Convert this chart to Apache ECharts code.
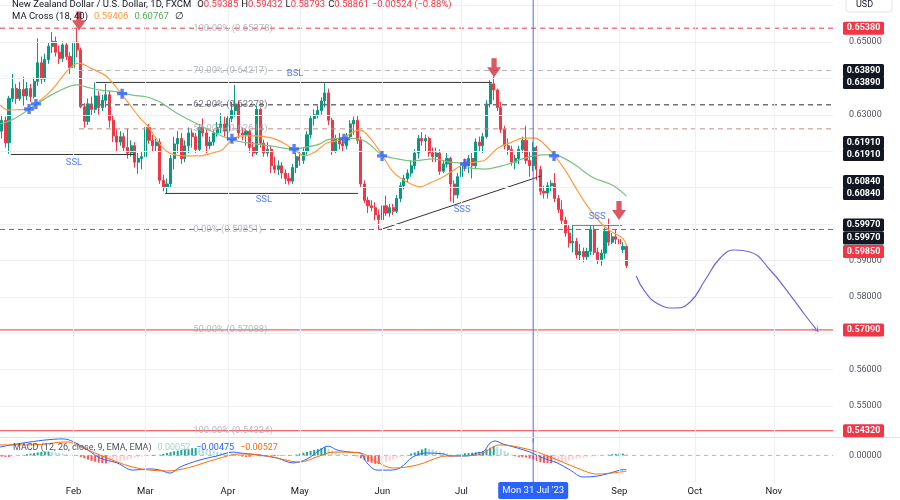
<!DOCTYPE html>
<html><head><meta charset="utf-8">
<script src="https://cdn.jsdelivr.net/npm/echarts@6/dist/echarts.min.js"></script>
<style>html,body{margin:0;padding:0;background:#fff}#c{width:900px;height:500px}</style>
</head><body><div id="c"></div>
<script>
// ---------- DATA ----------
const startDate = [2023, 0, 4];
const totalBars = 232;
// [open, close, low, high]
const candles = [
[0.6255,0.6285,0.6235,0.6300],[0.6285,0.6223,0.6210,0.6295],[0.6223,0.6345,0.6193,0.6352],[0.6345,0.6372,0.6335,0.6412],
[0.6372,0.6345,0.6330,0.6385],[0.6345,0.6370,0.6338,0.6390],[0.6370,0.6352,0.6325,0.6405],[0.6352,0.6372,0.6340,0.6390],
[0.6372,0.6350,0.6335,0.6385],[0.6350,0.6392,0.6345,0.6402],[0.6392,0.6443,0.6380,0.6510],[0.6443,0.6398,0.6385,0.6460],
[0.6398,0.6452,0.6390,0.6468],[0.6452,0.6488,0.6440,0.6500],[0.6488,0.6502,0.6470,0.6527],[0.6502,0.6472,0.6460,0.6515],
[0.6472,0.6455,0.6440,0.6490],[0.6455,0.6492,0.6445,0.6502],[0.6492,0.6460,0.6450,0.6500],[0.6460,0.6430,0.6412,0.6472],
[0.6430,0.6500,0.6420,0.6515],[0.6500,0.6478,0.6458,0.6538],[0.6478,0.6322,0.6318,0.6485],[0.6322,0.6282,0.6265,0.6332],
[0.6282,0.6330,0.6272,0.6345],[0.6330,0.6315,0.6300,0.6350],[0.6315,0.6352,0.6305,0.6389],[0.6352,0.6320,0.6300,0.6365],
[0.6320,0.6340,0.6310,0.6355],[0.6340,0.6355,0.6320,0.6385],[0.6355,0.6285,0.6265,0.6365],[0.6285,0.6242,0.6225,0.6300],
[0.6242,0.6225,0.6200,0.6260],[0.6225,0.6240,0.6215,0.6255],[0.6240,0.6210,0.6200,0.6250],[0.6210,0.6195,0.6180,0.6262],
[0.6195,0.6215,0.6185,0.6230],[0.6215,0.6170,0.6155,0.6225],[0.6170,0.6180,0.6138,0.6195],[0.6180,0.6185,0.6150,0.6200],
[0.6185,0.6265,0.6175,0.6276],[0.6265,0.6230,0.6220,0.6275],[0.6230,0.6215,0.6200,0.6245],[0.6215,0.6225,0.6200,0.6235],
[0.6225,0.6120,0.6110,0.6235],[0.6120,0.6100,0.6090,0.6135],[0.6100,0.6110,0.6084,0.6125],[0.6110,0.6180,0.6100,0.6190],
[0.6180,0.6220,0.6150,0.6240],[0.6220,0.6235,0.6195,0.6255],[0.6235,0.6180,0.6165,0.6250],[0.6180,0.6215,0.6170,0.6230],
[0.6215,0.6250,0.6195,0.6265],[0.6250,0.6240,0.6210,0.6260],[0.6240,0.6205,0.6195,0.6250],[0.6205,0.6265,0.6200,0.6275],
[0.6265,0.6250,0.6240,0.6290],[0.6250,0.6215,0.6195,0.6260],[0.6215,0.6225,0.6205,0.6240],[0.6225,0.6250,0.6215,0.6260],
[0.6250,0.6265,0.6240,0.6280],[0.6265,0.6275,0.6250,0.6305],[0.6275,0.6255,0.6240,0.6295],[0.6255,0.6290,0.6230,0.6300],
[0.6290,0.6312,0.6280,0.6335],[0.6312,0.6330,0.6295,0.6382],[0.6330,0.6250,0.6235,0.6340],[0.6250,0.6245,0.6230,0.6265],
[0.6245,0.6255,0.6215,0.6262],[0.6255,0.6210,0.6195,0.6260],[0.6210,0.6195,0.6185,0.6225],[0.6195,0.6315,0.6190,0.6325],
[0.6315,0.6222,0.6210,0.6320],[0.6222,0.6195,0.6185,0.6232],[0.6195,0.6205,0.6185,0.6225],[0.6205,0.6160,0.6140,0.6215],
[0.6160,0.6150,0.6140,0.6185],[0.6150,0.6160,0.6135,0.6175],[0.6160,0.6140,0.6125,0.6170],[0.6140,0.6125,0.6110,0.6150],
[0.6125,0.6118,0.6108,0.6140],[0.6118,0.6155,0.6110,0.6165],[0.6155,0.6185,0.6140,0.6195],[0.6185,0.6175,0.6160,0.6200],
[0.6175,0.6200,0.6165,0.6210],[0.6200,0.6245,0.6190,0.6255],[0.6245,0.6290,0.6235,0.6300],[0.6290,0.6300,0.6270,0.6315],
[0.6300,0.6312,0.6290,0.6325],[0.6312,0.6338,0.6300,0.6348],[0.6338,0.6360,0.6320,0.6387],[0.6360,0.6285,0.6272,0.6372],
[0.6285,0.6200,0.6190,0.6292],[0.6200,0.6235,0.6195,0.6245],[0.6235,0.6220,0.6205,0.6250],[0.6220,0.6215,0.6200,0.6240],
[0.6215,0.6240,0.6205,0.6250],[0.6240,0.6275,0.6230,0.6285],[0.6275,0.6285,0.6245,0.6295],[0.6285,0.6230,0.6220,0.6298],
[0.6230,0.6110,0.6100,0.6240],[0.6110,0.6065,0.6058,0.6120],[0.6065,0.6050,0.6030,0.6075],[0.6050,0.6045,0.6035,0.6065],
[0.6045,0.6025,0.6010,0.6060],[0.6025,0.6012,0.5985,0.6040],[0.6012,0.6050,0.6000,0.6060],[0.6050,0.6030,0.6022,0.6078],
[0.6030,0.6045,0.6020,0.6055],[0.6045,0.6035,0.6025,0.6055],[0.6035,0.6070,0.6030,0.6080],[0.6070,0.6105,0.6060,0.6115],
[0.6105,0.6125,0.6095,0.6135],[0.6125,0.6140,0.6115,0.6150],[0.6140,0.6160,0.6130,0.6175],[0.6160,0.6195,0.6150,0.6205],
[0.6195,0.6235,0.6180,0.6245],[0.6235,0.6228,0.6215,0.6252],[0.6228,0.6235,0.6200,0.6245],[0.6235,0.6195,0.6185,0.6240],
[0.6195,0.6185,0.6170,0.6210],[0.6185,0.6195,0.6170,0.6210],[0.6195,0.6145,0.6135,0.6205],[0.6145,0.6165,0.6140,0.6175],
[0.6165,0.6180,0.6155,0.6195],[0.6180,0.6110,0.6062,0.6185],[0.6110,0.6080,0.6058,0.6120],[0.6080,0.6130,0.6070,0.6140],
[0.6130,0.6160,0.6120,0.6175],[0.6170,0.6160,0.6145,0.6180],[0.6160,0.6180,0.6140,0.6190],[0.6180,0.6160,0.6125,0.6195],
[0.6160,0.6225,0.6150,0.6235],[0.6225,0.6215,0.6200,0.6240],[0.6215,0.6240,0.6195,0.6250],[0.6240,0.6330,0.6235,0.6340],
[0.6330,0.6385,0.6320,0.6395],[0.6385,0.6368,0.6340,0.6405],[0.6368,0.6320,0.6310,0.6372],[0.6320,0.6260,0.6250,0.6335],
[0.6260,0.6215,0.6205,0.6270],[0.6215,0.6205,0.6190,0.6235],[0.6205,0.6170,0.6160,0.6215],[0.6170,0.6180,0.6150,0.6190],
[0.6180,0.6205,0.6165,0.6215],[0.6205,0.6230,0.6195,0.6240],[0.6230,0.6175,0.6165,0.6270],[0.6175,0.6160,0.6130,0.6200],
[0.6160,0.6210,0.6145,0.6225],[0.6210,0.6150,0.6120,0.6215],[0.6150,0.6090,0.6080,0.6160],[0.6090,0.6085,0.6070,0.6105],
[0.6085,0.6105,0.6070,0.6115],[0.6105,0.6112,0.6090,0.6120],[0.6112,0.6070,0.6060,0.6140],[0.6070,0.6040,0.6030,0.6080],
[0.6040,0.6010,0.6000,0.6065],[0.6010,0.5975,0.5965,0.6020],[0.5975,0.5948,0.5935,0.5997],[0.5948,0.5952,0.5922,0.5997],
[0.5952,0.5915,0.5905,0.5962],[0.5915,0.5925,0.5900,0.5945],[0.5925,0.5910,0.5895,0.5935],[0.5910,0.5925,0.5900,0.5935],
[0.5925,0.5985,0.5915,0.5995],[0.5985,0.5922,0.5915,0.5995],[0.5922,0.5902,0.5890,0.5935],[0.5902,0.5920,0.5885,0.5930],
[0.5920,0.5980,0.5905,0.5990],[0.5980,0.5950,0.5940,0.6015],[0.5950,0.5965,0.5945,0.5975],[0.5965,0.5958,0.5945,0.5985],
[0.5958,0.5945,0.5910,0.5997],[0.5930,0.59385,0.5920,0.5950],[0.59385,0.58861,0.58793,0.59432]
];
// [bar position, value]
const ma18 = [[-0.5,0.6327],[1.7,0.6313],[4.5,0.6314],[7.6,0.6316],[9.5,0.6330],[13.4,0.6363],[16.2,0.6396],[19,0.6429],[21.5,0.6442],[24.6,0.6429],[28.7,0.6409],[30.1,0.6396],[32.9,0.6363],[35.7,0.6327],[38.5,0.6291],[40.4,0.6272],[42.7,0.6239],[45.5,0.6203],[48.2,0.6190],[51,0.6187],[54.7,0.6187],[58.6,0.6195],[61.3,0.6203],[64.1,0.6231],[66.9,0.6242],[70.5,0.6242],[75.3,0.6236],[78,0.6225],[81.1,0.6206],[84.5,0.6187],[87.2,0.6198],[90.6,0.6223],[94.2,0.6231],[97.8,0.6253],[99.8,0.6258],[102.6,0.6236],[105.9,0.6190],[109,0.6143],[112.9,0.6115],[116.5,0.6102],[119.3,0.6113],[122.9,0.6129],[126.8,0.6154],[129,0.6165],[132,0.6170],[134.6,0.6176],[138.2,0.6209],[142.1,0.6225],[145.2,0.6236],[148.5,0.6236],[151.3,0.6217],[153.8,0.6190],[156.9,0.6148],[159.7,0.6102],[162.5,0.6058],[166.1,0.6011],[168.9,0.5984],[172.8,0.5962],[174,0.59406]];
const ma40 = [[-0.5,0.6275],[2.8,0.6286],[7.3,0.6313],[11.5,0.6341],[15.4,0.6363],[20.9,0.6382],[23.7,0.6376],[27.4,0.6368],[32.1,0.6363],[36.5,0.6354],[40.4,0.6349],[42.7,0.6341],[44.1,0.6335],[48.2,0.6308],[53.8,0.6278],[59.4,0.6250],[64.1,0.6231],[68.6,0.6223],[75.3,0.6214],[81.1,0.6206],[85.3,0.6212],[88.6,0.6220],[90.6,0.6231],[95,0.6236],[99.8,0.6233],[102.6,0.6217],[105.9,0.6190],[110.1,0.6179],[114.5,0.6173],[120.1,0.6179],[124.8,0.6170],[129,0.6165],[130.4,0.6154],[134.6,0.6151],[140.2,0.6162],[145.7,0.6181],[150.5,0.6190],[153.8,0.6190],[158.8,0.6168],[164.4,0.6129],[170,0.6107],[174,0.60767]];
const maCrosses = [[7.6,0.6316],[9.5,0.6330],[33.5,0.6358],[64.1,0.6234],[81.4,0.6206],[95.3,0.6234],[105.9,0.6187],[129,0.6165],[153.8,0.6187]];
const sellArrows = [[21.5,0.6558],[137.1,0.6429],[171.9,0.6037]];
const macdLine = [[-0.5,0.0028],[17,0.0055],[22.6,0.0028],[27.4,-0.0009],[32.1,-0.0025],[36.5,-0.0049],[41.3,-0.0045],[44.1,-0.0049],[46.9,-0.0059],[49.6,-0.0039],[55.2,-0.0015],[59.9,-0.0002],[64.4,0.0011],[66.4,0.0008],[71.9,0.0001],[76.7,-0.0009],[81.1,-0.0025],[85,-0.0012],[88.6,0.0018],[90.9,0.0031],[93.4,0.0018],[97,0.0011],[99.8,0.0008],[101.7,-0.0025],[104.5,-0.0049],[108.1,-0.0049],[110.9,-0.0042],[114.5,-0.0005],[118.4,0.0008],[122.9,0.0005],[124.8,-0.0002],[129.6,-0.0002],[132.4,0.0008],[134,0.0011],[136,0.0041],[137.4,0.0048],[139.6,0.0038],[143.5,0.0025],[147.1,0.0011],[150.8,-0.0009],[154.7,-0.0025],[158.3,-0.0049],[161.9,-0.0072],[165.8,-0.0069],[169.4,-0.0059],[172.2,-0.0049],[174,-0.00475]];
const signalLine = [[-0.5,0.0035],[8.7,0.0035],[18.2,0.0045],[22.6,0.0025],[27.4,0.0001],[36.5,-0.0039],[46,-0.0052],[51.6,-0.0042],[59.9,-0.0012],[66.4,0.0005],[73.9,-0.0002],[83.1,-0.0022],[87.8,-0.0005],[92.3,0.0011],[99.8,0.0008],[104.5,-0.0022],[109,-0.0042],[115.7,-0.0032],[122.1,-0.0005],[124.8,-0.0002],[132.4,0.0001],[138.8,0.0035],[146.3,0.0021],[152.7,-0.0005],[160.2,-0.0042],[165.8,-0.0062],[174,-0.00527]];
const histogram = [
-0.0004,-0.0005,-0.0005,-0.0004,-0.0003,-0.0001,
0.0002,0.0004,0.0006,0.0008,0.0010,0.0012,0.0013,0.0013,0.0012,0.0010,
0.0008,0.0006,0.0004,0.0002,0.0001,
-0.0002,-0.0005,
-0.0010,-0.0014,-0.0018,-0.0021,-0.0024,
-0.0026,-0.0027,-0.0026,-0.0025,-0.0023,-0.0020,
-0.0017,-0.0014,-0.0011,-0.0008,-0.0006,-0.0004,
-0.0003,-0.0002,-0.0002,-0.0001,
0.0002,0.0005,0.0008,0.0011,0.0014,0.0016,0.0018,0.0020,0.0022,
0.0024,0.0025,0.0024,0.0023,0.0021,
0.0018,0.0015,0.0012,0.0010,0.0008,0.0006,0.0004,0.0002,
-0.0002,-0.0004,-0.0005,-0.0005,-0.0004,-0.0003,
-0.0003,-0.0003,-0.0002,-0.0002,-0.0002,-0.0002,-0.0001,-0.0001,-0.0001,0.0000,
0.0003,0.0006,0.0009,0.0012,0.0015,0.0018,0.0021,0.0024,0.0027,
0.0022,0.0016,0.0012,0.0008,0.0005,0.0003,
0.0001,-0.0001,-0.0003,
-0.0010,-0.0016,-0.0021,-0.0025,-0.0028,-0.0029,
-0.0026,-0.0022,-0.0018,-0.0014,-0.0010,-0.0006,
-0.0002,0.0002,
0.0006,0.0010,0.0015,0.0020,0.0024,
0.0022,0.0019,0.0016,0.0013,0.0010,0.0007,
0.0004,0.0002,0.0003,
0.0005,0.0007,0.0008,0.0009,0.0010,0.0012,0.0015,
0.0020,0.0026,0.0030,0.0028,
0.0022,0.0015,0.0009,
0.0003,-0.0003,-0.0005,-0.0006,-0.0007,
-0.0010,-0.0014,-0.0019,-0.0023,-0.0025,-0.0026,
-0.0026,-0.0025,-0.0024,-0.0022,-0.0020,-0.0017,
-0.0014,-0.0011,-0.0009,-0.0007,-0.0005,-0.0004,
-0.0003,-0.0002,-0.0001,0.0000,
0.0002,0.0004,0.0005,0.0006,0.0006,0.00052
];
const redLevels = [0.6538, 0.5985, 0.5709, 0.5432];
const redDashed = [true, true, false, false];
const fibStart = 21.5;
const fibLevels = [0.64217, 0.63278, 0.62614];
const fibTexts = [['100.00% (0.65378)',0.65378],['79.00% (0.64217)',0.64217],['62.00% (0.63278)',0.63278],['50.00% (0.62614)',0.62614],['0.00% (0.59851)',0.59851],['50.00% (0.57088)',0.57088],['100.00% (0.54324)',0.54324]];
const fibTextPos = 53.3;
const liquidityLines = [[[2.6,0.6191],[37.1,0.6191]],[[26.2,0.6389],[136.5,0.6389]],[[45.5,0.6084],[99.2,0.6084]],[[105.6,0.59851],[150.2,0.61319]],[[159.1,0.5997],[172.8,0.5997]]];
const liquidityTags = [['SSL',20.1,0.6170],['BSL',81.7,0.6412],['SSL',73,0.6066],['SSS',128.2,0.6040],['SSS',165.8,0.6020]];
const projection = [[176.7,0.58571],[179.2,0.58132],[182.8,0.57802],[187.5,0.57692],[191.7,0.57857],[195.9,0.58462],[200.1,0.59066],[204.2,0.59286],[208.4,0.59231],[214,0.58736],[219.6,0.58049],[223.7,0.5750],[226.8,0.57115]];
const crosshairBar = 148;
const priceTags = [[0.6538,'r',0],[0.6389,'k',-12],[0.6389,'k',0],[0.6191,'k',-12],[0.6191,'k',0],[0.6084,'k',-12],[0.6084,'k',0],[0.5997,'k',0],[0.5997,'k',13],[0.5985,'r',22],[0.5709,'r',0],[0.5432,'r',0]];
const shownTicks = [55,56,58,59,63,65];
const monthNames = ['Jan','Feb','Mar','Apr','May','Jun','Jul','Aug','Sep','Oct','Nov','Dec'];

// ---------- BUILD ----------
const categories = [];
{ const d = new Date(Date.UTC(startDate[0], startDate[1], startDate[2]));
  while (categories.length < totalBars) { const w = d.getUTCDay(); if (w !== 0 && w !== 6) categories.push(d.toISOString().slice(0,10)); d.setUTCDate(d.getUTCDate()+1); } }
const monthStarts = [];
for (let i = 1; i < categories.length; i++) if (categories[i].slice(5,7) !== categories[i-1].slice(5,7)) monthStarts.push(i);
const monthSet = new Set(monthStarts);

const FONT = 'Roboto, sans-serif';
const UP = '#089981', DOWN = '#f23645';
const XMAX = totalBars - 0.5;
const Y_MIN = 0.54, Y_MAX = 0.66154, PX = 3640;
const gridH = (Y_MAX - Y_MIN) * PX;

const chart = echarts.init(document.getElementById('c'));
const series = [];
function seg(points, color, width, type, z, xi, yi) {
  series.push({type:'line', xAxisIndex: xi ?? 1, yAxisIndex: yi ?? 0, data: points, symbol:'none', silent:true, smooth:false,
    lineStyle:{color, width, type}, z: z ?? 4});
}
// grid lines
series.push({type:'line', xAxisIndex:1, yAxisIndex:0, data:[[-0.5,0.6],[XMAX,0.6]], symbol:'none', lineStyle:{opacity:0}, silent:true, z:0,
  markLine:{silent:true, symbol:'none', label:{show:false}, lineStyle:{color:'#eef0f4', width:1, type:'solid'},
    data: [0.55,0.56,0.57,0.58,0.59,0.60,0.61,0.62,0.63,0.64,0.65,0.66].map(v=>({yAxis:v})).concat(monthStarts.map(i=>({xAxis:i})))}});
series.push({type:'line', xAxisIndex:3, yAxisIndex:1, data:[[-0.5,0],[XMAX,0]], symbol:'none', lineStyle:{opacity:0}, silent:true, z:0,
  markLine:{silent:true, symbol:'none', label:{show:false}, lineStyle:{color:'#eef0f4', width:1, type:'solid'},
    data: monthStarts.map(i=>({xAxis:i}))}});
// price
series.push({type:'candlestick', xAxisIndex:0, yAxisIndex:0, data:candles, barWidth:2.6, z:2,
  itemStyle:{color:UP, color0:DOWN, borderColor:UP, borderColor0:DOWN, borderWidth:1}});
// red horizontal levels
redLevels.forEach((v,k)=>seg([[-0.5,v],[XMAX,v]], '#f23645', 1, redDashed[k] ? [5,4] : 'solid', 3));
// fib lines
seg([[fibStart,fibLevels[0]],[XMAX,fibLevels[0]]], '#b2b5be', 1, [5,4], 3);
seg([[fibStart,fibLevels[1]],[XMAX,fibLevels[1]]], '#6f727c', 1.5, [5,4], 3);
seg([[fibStart,fibLevels[2]],[XMAX,fibLevels[2]]], '#c48c8c', 1, [5,4], 3);
// liquidity lines
liquidityLines.forEach(p=>seg(p, '#333333', 1, 'solid', 4));
// MAs
series.push({type:'line', xAxisIndex:1, yAxisIndex:0, data:ma18, symbol:'none', smooth:0.35, silent:true, lineStyle:{color:'#ff9b3d', width:1.2}, z:5});
series.push({type:'line', xAxisIndex:1, yAxisIndex:0, data:ma40, symbol:'none', smooth:0.35, silent:true, lineStyle:{color:'#7cc17e', width:1.2}, z:5});
// projection curve
series.push({type:'line', xAxisIndex:1, yAxisIndex:0, data:projection, smooth:0.5, silent:true, lineStyle:{color:'#7562d8', width:1.2}, z:5,
  symbol: (v, p) => p.dataIndex === projection.length-1 ? 'path://M0,10 L5,0 L10,10 L5,3 Z' : 'none', symbolSize:[8,8], symbolRotate:-142,
  itemStyle:{color:'#7562d8'}});
// crosses
series.push({type:'scatter', xAxisIndex:1, yAxisIndex:0, data:maCrosses, symbol:'path://M3,0H6V3H9V6H6V9H3V6H0V3H3Z', symbolSize:10,
  itemStyle:{color:'#2962ff'}, z:7, silent:true});
// arrows
series.push({type:'scatter', xAxisIndex:1, yAxisIndex:0, data:sellArrows, symbol:'path://M5,0H11V8H16L8,17L0,8H5Z', symbolSize:[14,19],
  itemStyle:{color:'#d2303c'}, z:8, silent:true});
// texts
series.push({type:'scatter', xAxisIndex:1, yAxisIndex:0, symbolSize:0, silent:true, z:6,
  data: liquidityTags.map(t=>({name:t[0], value:[t[1],t[2]]})),
  label:{show:true, position:'inside', formatter:'{b}', color:'#2962ff', fontSize:9.5, fontFamily:FONT}});
series.push({type:'scatter', xAxisIndex:1, yAxisIndex:0, symbolSize:0, silent:true, z:6,
  data: fibTexts.map((t,k)=>({name:t[0], value:[fibTextPos,t[1]], label:{color: k===2 ? '#50535e' : '#a3a6af'}})),
  label:{show:true, position:'right', distance:0, formatter:'{b}', fontSize:9.5, fontFamily:FONT}});
// crosshair
seg([[crosshairBar,Y_MIN],[crosshairBar,Y_MAX]], '#4c6ef5', 1, 'solid', 9, 1, 0);
// MACD
series.push({type:'bar', xAxisIndex:2, yAxisIndex:1, data:histogram, barWidth:2, z:2,
  itemStyle:{color:(p)=>{ const v=p.value, pv = p.dataIndex>0 ? histogram[p.dataIndex-1] : v;
    return v>=0 ? (v>=pv ? '#26a69a' : '#b2dfdb') : (v<=pv ? '#ff5252' : '#ffcdd2'); }}});
series.push({type:'line', xAxisIndex:3, yAxisIndex:1, data:[[-0.5,0],[XMAX,0]], symbol:'none', silent:true, lineStyle:{color:'#b2b5be', width:1, type:[4,4]}, z:1});
series.push({type:'line', xAxisIndex:3, yAxisIndex:1, data:macdLine, symbol:'none', smooth:0.35, silent:true, lineStyle:{color:'#2962ff', width:1}, z:4});
series.push({type:'line', xAxisIndex:3, yAxisIndex:1, data:signalLine, symbol:'none', smooth:0.35, silent:true, lineStyle:{color:'#ff6d00', width:1}, z:4});
seg([[crosshairBar,-0.009],[crosshairBar,0.006]], '#4c6ef5', 1, 'solid', 9, 3, 1);

chart.setOption({
  animation:false,
  textStyle:{fontFamily:FONT},
  grid:[
    {left:0, top:0, width:833, height:gridH, containLabel:false},
    {left:0, top:437.4, width:833, height:45, containLabel:false}
  ],
  xAxis:[
    {type:'category', gridIndex:0, data:categories, boundaryGap:true, show:false},
    {type:'value', gridIndex:0, min:-0.5, max:XMAX, show:false},
    {type:'category', gridIndex:1, data:categories, boundaryGap:true,
      axisLine:{show:false}, axisTick:{show:false}, splitLine:{show:false},
      axisLabel:{interval:(i)=>monthSet.has(i), formatter:(v)=>monthNames[+v.slice(5,7)-1], color:'#131722', fontSize:9.5, margin:4, fontFamily:FONT}},
    {type:'value', gridIndex:1, min:-0.5, max:XMAX, show:false}
  ],
  yAxis:[
    {type:'value', gridIndex:0, position:'right', min:Y_MIN, max:Y_MAX, interval:0.01,
      axisLine:{show:false}, axisTick:{show:false}, splitLine:{show:false},
      axisLabel:{margin:16, color:'#50535e', fontSize:9, fontFamily:FONT, showMaxLabel:false,
        formatter:(v)=> shownTicks.includes(Math.round(v*100)) ? v.toFixed(5) : ''}},
    {type:'value', gridIndex:1, position:'right', min:-0.009, max:0.006, interval:0.003,
      axisLine:{show:false}, axisTick:{show:false}, splitLine:{show:false},
      axisLabel:{margin:16, color:'#50535e', fontSize:9, fontFamily:FONT,
        formatter:(v)=> Math.abs(v)<1e-9 ? '0.00000' : ''}}
  ],
  series
});

// ---------- overlays (legends / price-scale tags) ----------
const g = [];
g.push({type:'line', shape:{x1:0,y1:437.5,x2:900,y2:437.5}, style:{stroke:'#e0e3eb', lineWidth:1}, z:50});
g.push({type:'text', x:12, y:5, z:100, style:{verticalAlign:'middle', fontFamily:FONT,
  text:'{t|New Zealand Dollar / U.S. Dollar, 1D, FXCM}  {l|O}{v|0.59385} {l|H}{v|0.59432} {l|L}{v|0.58793} {l|C}{v|0.58861} {v|−0.00524 (−0.88%)}',
  rich:{t:{fill:'#131722', fontSize:9.5, fontFamily:FONT}, l:{fill:'#131722', fontSize:9.5, fontFamily:FONT}, v:{fill:'#f23645', fontSize:9.5, fontFamily:FONT}}}});
g.push({type:'text', x:12, y:17, z:100, style:{verticalAlign:'middle', fontFamily:FONT,
  text:'{t|MA Cross (18, 40)}  {o|0.59406}  {g|0.60767}  {t|∅}',
  rich:{t:{fill:'#131722', fontSize:9.5, fontFamily:FONT}, o:{fill:'#ff9b3d', fontSize:9.5, fontFamily:FONT}, g:{fill:'#4caf50', fontSize:9.5, fontFamily:FONT}}}});
g.push({type:'text', x:13, y:448, z:100, style:{verticalAlign:'middle', fontFamily:FONT,
  text:'{t|MACD (12, 26, close, 9, EMA, EMA)}  {h|0.00052}  {b|−0.00475}  {o|−0.00527}',
  rich:{t:{fill:'#50535e', fontSize:9, fontFamily:FONT}, h:{fill:'#9fd6cf', fontSize:9, fontFamily:FONT}, b:{fill:'#2962ff', fontSize:9, fontFamily:FONT}, o:{fill:'#ff6d00', fontSize:9, fontFamily:FONT}}}});
// USD box
g.push({type:'rect', shape:{x:846,y:-4,width:46,height:16,r:3}, style:{fill:'#fff', stroke:'#e0e3eb'}, z:100});
g.push({type:'text', x:856, y:5, z:101, style:{text:'USD', fill:'#131722', fontSize:9, fontFamily:FONT, verticalAlign:'middle'}});
// price tags
priceTags.forEach(t=>{
  const py = chart.convertToPixel({yAxisIndex:0}, t[0]) + t[2];
  g.push({type:'rect', shape:{x:843, y:py-6.5, width:41, height:13, r:1.5}, style:{fill: t[1]==='r' ? '#f23645' : '#131722'}, z:110});
  g.push({type:'text', x:863.5, y:py, z:111, style:{text:t[0].toFixed(5), fill:'#fff', fontSize:9, fontWeight:'bold', fontFamily:FONT, align:'center', verticalAlign:'middle'}});
});
// crosshair date tag
const cx = chart.convertToPixel({xAxisIndex:1}, crosshairBar);
g.push({type:'rect', shape:{x:cx-35, y:482, width:70, height:17, r:2}, style:{fill:'#2962ff'}, z:110});
g.push({type:'text', x:cx, y:490.5, z:111, style:{text:"Mon 31 Jul '23", fill:'#fff', fontSize:9.5, fontFamily:FONT, align:'center', verticalAlign:'middle'}});
chart.setOption({graphic: g});
</script>
</body></html>
